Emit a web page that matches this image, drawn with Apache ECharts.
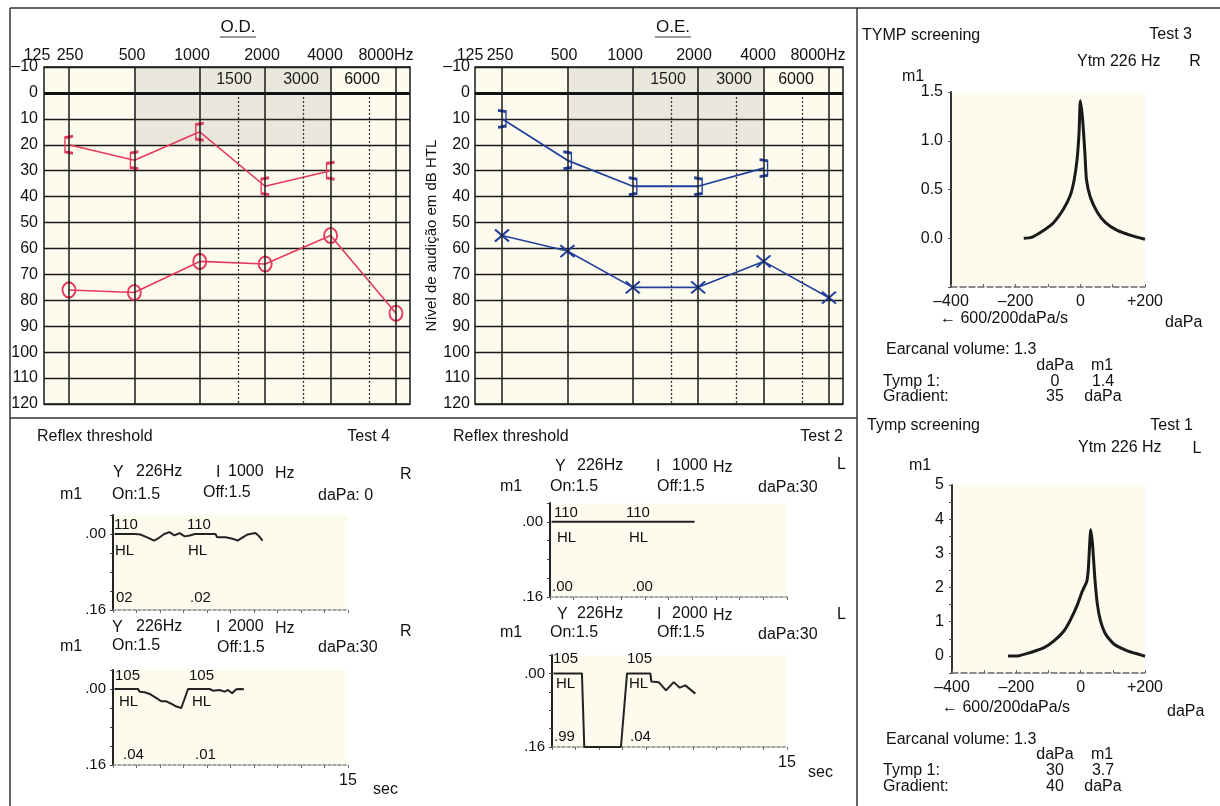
<!DOCTYPE html>
<html><head><meta charset="utf-8">
<script src="https://cdn.jsdelivr.net/npm/echarts@6/dist/echarts.min.js"></script>
<style>html,body{margin:0;padding:0;background:#fff}#c{width:1220px;height:806px}</style>
</head><body><div id="c"></div>
<script>
// ---------------- DATA ----------------
const audioFreqs = [250, 500, 1000, 2000, 4000, 8000];
const midFreqs = [1500, 3000, 6000];
const headerLabels = ['125', '250', '500', '1000', '2000', '4000', '8000Hz'];
const midLabels = ['1500', '3000', '6000'];
const maskedFreqs = [250, 500, 1000, 2000, 4000];
const odMaskedDb = [20, 26, 15, 36, 30];
const odAirDb = [76, 77, 65, 66, 55, 85];
const oeMaskedDb = [10, 26, 36, 36, 29];
const oeAirDb = [55, 61, 75, 75, 65, 79];

const tympRdaPa = [-175, -151, -114, -83, -52, -31, -19, -10, -4, 0, 7, 14, 19, 31, 52, 78, 114, 156, 200];
const tympRm1   = [0.00, 0.01, 0.08, 0.16, 0.30, 0.44, 0.60, 0.81, 1.08, 1.41, 1.22, 0.88, 0.60, 0.42, 0.27, 0.16, 0.08, 0.03, -0.01];
const tympLdaPa = [-226, -197, -156, -114, -83, -52, -31, -10, 5, 19, 24, 29, 31, 37, 44, 52, 62, 78, 104, 145, 187, 200];
const tympLm1   = [0.00, 0.00, 0.10, 0.24, 0.44, 0.73, 1.07, 1.50, 1.89, 2.18, 2.57, 3.45, 3.69, 3.25, 2.28, 1.50, 1.02, 0.63, 0.34, 0.15, 0.03, -0.01];

const reflexR1000t = [0.1, 1.42, 1.74, 2.18, 2.62, 2.94, 3.27, 3.6, 3.92, 4.25, 4.58, 4.9, 5.23, 6.54, 6.65, 7.19, 7.63, 7.96, 8.28, 8.6, 9.1, 9.33, 9.55];
const reflexR1000v = [0, 0, 0.001, 0.007, 0.014, 0.008, 0, -0.004, 0.003, -0.002, 0.005, 0.003, 0, 0, 0.007, 0.007, 0.01, 0.014, 0.007, 0.001, -0.002, 0.005, 0.014];
const reflexR2000t = [0.1, 1.6, 1.7, 2.02, 2.34, 2.77, 3.09, 3.4, 3.72, 4.04, 4.36, 4.47, 4.79, 6.17, 6.38, 6.8, 7.13, 7.34, 7.6, 7.87, 8.09, 8.36];
const reflexR2000v = [0, 0, 0.0056, 0.007, 0.0104, 0.019, 0.026, 0.026, 0.031, 0.037, 0.04, 0.038, 0, 0, 0.0035, 0.002, 0.0056, 0.002, 0.009, 0.0007, 0, 0.0007];
const reflexL1000t = [0.1, 9.15];
const reflexL1000v = [0, 0];
const reflexL2000t = [0.1, 1.91, 2.06, 4.4, 4.79, 6.28, 6.34, 6.81, 7.28, 7.77, 8.15, 8.51, 9.15];
const reflexL2000v = [0, 0, 0.16, 0.16, 0, 0, 0.0178, 0.019, 0.037, 0.019, 0.031, 0.026, 0.044];

// ---------------- STYLE ----------------
const FONT = '"Liberation Sans", Arial, Helvetica, sans-serif';
const RED = '#e63a5c', BLUE = '#213f9c', CREAM = '#fdfbee', INK = '#1a1a1a';
const zip = (a, b) => a.map((v, i) => [v, b[i]]);

const chart = echarts.init(document.getElementById('c'));

function audioGrid(left, width) {
  return { left: left, top: 67, width: width, height: 337, show: true, backgroundColor: CREAM,
           borderColor: INK, borderWidth: 1.5 };
}
function audioX(gi, minF) {
  return { gridIndex: gi, type: 'log', logBase: 2, min: minF, max: 9283,
           axisLine: {show: false}, axisTick: {show: false}, axisLabel: {show: false}, splitLine: {show: false} };
}
function audioY(gi, margin, name) {
  return { gridIndex: gi, type: 'value', inverse: true, min: -10, max: 120, interval: 10,
           axisLine: {show: false}, axisTick: {show: false},
           axisLabel: {color: '#111', fontSize: 16, fontFamily: FONT, margin: margin,
                       formatter: v => v < 0 ? '–' + Math.abs(v) : String(v)},
           splitLine: {show: true, lineStyle: {color: INK, width: 1.4}},
           name: name || '', nameLocation: 'middle', nameRotate: 90, nameGap: 36,
           nameTextStyle: {fontSize: 15, fontFamily: FONT, color: '#111'} };
}
function audioMarkLine() {
  const d = audioFreqs.map(f => ({xAxis: f}));
  midFreqs.forEach(f => d.push([{coord: [f, 0], lineStyle: {type: [2, 2], width: 1.3, color: '#333'}}, {coord: [f, 120]}]));
  d.push({yAxis: 0, lineStyle: {width: 3.2, color: '#111'}});
  return { silent: true, symbol: ['none', 'none'], label: {show: false}, animation: false,
           lineStyle: {color: INK, width: 1.5, type: 'solid'}, data: d };
}
const bracketL = 'path://M9,0 L1,1.5 L1,18.5 L9,20';
const bracketR = 'path://M0,0 L8,1.5 L8,18.5 L0,20';
const crossPath = 'path://M0,0 L12,10 M12,0 L0,10';

function tympGrid(left, top, width, height) {
  return { left, top, width, height, show: true, backgroundColor: CREAM, borderWidth: 0 };
}
function tympX(gi) {
  return { gridIndex: gi, type: 'value', min: -400, max: 200, interval: 100,
           axisLine: {onZero: false, lineStyle: {color: '#666', width: 1.5, type: [6, 3]}},
           axisTick: {inside: true, length: 3, lineStyle: {color: '#666'}},
           splitLine: {show: false},
           axisLabel: {color: '#111', fontSize: 16, fontFamily: FONT, margin: 7,
                       formatter: v => v % 200 !== 0 ? '' : (v > 0 ? '+' + v : (v < 0 ? '–' + Math.abs(v) : '0'))} };
}
function tympY(gi, min, max, interval, fmt) {
  return { gridIndex: gi, type: 'value', min, max, interval,
           axisLine: {show: true, onZero: false, lineStyle: {color: '#333', width: 2}},
           axisTick: {show: true, length: 3, lineStyle: {color: '#555'}},
           splitLine: {show: false},
           axisLabel: {color: '#111', fontSize: 16, fontFamily: FONT, margin: 8, formatter: fmt} };
}
function reflexGrid(left, top, width, height) {
  return { left, top, width, height, show: true, backgroundColor: CREAM, borderWidth: 0 };
}
function reflexX(gi, showEnd) {
  return { gridIndex: gi, type: 'value', min: 0, max: 15, interval: 1.5,
           axisLine: {onZero: false, lineStyle: {color: '#888', width: 1.5, type: [3, 2]}},
           axisTick: {show: true, length: 3, lineStyle: {color: '#666'}},
           splitLine: {show: false},
           axisLabel: {show: showEnd, color: '#111', fontSize: 16, fontFamily: FONT, margin: 8,
                       formatter: v => Math.abs(v - 15) < 1e-6 ? '15' : ''} };
}
function reflexY(gi) {
  return { gridIndex: gi, type: 'value', inverse: true, min: -0.04, max: 0.16, interval: 0.04,
           axisLine: {show: true, onZero: false, lineStyle: {color: '#222', width: 2}},
           axisTick: {show: true, length: 3, lineStyle: {color: '#444'}},
           splitLine: {show: false},
           axisLabel: {color: '#111', fontSize: 15, fontFamily: FONT, margin: 7,
                       formatter: v => Math.abs(v) < 1e-9 ? '.00' : (Math.abs(v - 0.16) < 1e-9 ? '.16' : '')} };
}
function trace(xi, t, v) {
  return { type: 'line', xAxisIndex: xi, yAxisIndex: xi, data: zip(t, v), symbol: 'none',
           lineStyle: {color: '#222', width: 2}, z: 3 };
}

// ---------------- TEXT ----------------
const texts = [];
function T(s, x, y, align, size, extra) {
  texts.push(Object.assign({ type: 'text', x: x, y: y, silent: true,
    style: { text: s, fontSize: size || 16, fontFamily: FONT, fill: '#111',
             align: align || 'left', verticalAlign: 'middle', textAlign: align || 'left', textVerticalAlign: 'middle' } }, extra || {}));
}
const lines = [];
function L(x1, y1, x2, y2, w) {
  lines.push({ type: 'line', silent: true, shape: {x1, y1, x2, y2}, style: {stroke: '#333', lineWidth: w || 1.5} });
}
// frame
L(10, 8, 1220, 8); L(10, 8, 10, 806); L(857, 8, 857, 806); L(10, 418, 857, 418);
// audiogram titles + headers
T('O.D.', 238, 27, 'center', 17); L(220, 37, 256, 37, 1.2);
T('O.E.', 673, 27, 'center', 17); L(655, 37, 691, 37, 1.2);
const odHeaderX = [37, 70, 132, 192, 262, 325, 386];
const oeHeaderX = [470, 500, 564, 625, 694, 758, 818];
headerLabels.forEach((s, i) => { T(s, odHeaderX[i], 56, 'center'); T(s, oeHeaderX[i], 56, 'center'); });
const odMidX = [234, 301, 362], oeMidX = [668, 734, 796];
midLabels.forEach((s, i) => { T(s, odMidX[i], 80, 'center'); T(s, oeMidX[i], 80, 'center'); });

// Tymp R
T('TYMP screening', 862, 36); T('Test 3', 1192, 35, 'right');
T('Ytm 226 Hz', 1077, 62); T('R', 1195, 62, 'center'); T('m1', 902, 77);
T('← 600/200daPa/s', 940, 319); T('daPa', 1165, 323);
T('Earcanal volume: 1.3', 886, 350);
T('daPa', 1055, 366, 'center'); T('m1', 1102, 366, 'center');
T('Tymp 1:', 883, 382); T('0', 1055, 382, 'center'); T('1.4', 1103, 382, 'center');
T('Gradient:', 883, 397); T('35', 1055, 397, 'center'); T('daPa', 1103, 397, 'center');
// Tymp L
T('Tymp screening', 867, 426); T('Test 1', 1193, 426, 'right');
T('Ytm 226 Hz', 1078, 448); T('L', 1197, 449, 'center'); T('m1', 909, 466);
T('← 600/200daPa/s', 942, 708); T('daPa', 1167, 712);
T('Earcanal volume: 1.3', 886, 740);
T('daPa', 1055, 755, 'center'); T('m1', 1102, 755, 'center');
T('Tymp 1:', 883, 771); T('30', 1055, 771, 'center'); T('3.7', 1103, 771, 'center');
T('Gradient:', 883, 787); T('40', 1055, 787, 'center'); T('daPa', 1103, 787, 'center');
// Reflex R ear
T('Reflex threshold', 37, 437); T('Test 4', 390, 437, 'right');
T('Y', 113, 473); T('226Hz', 136, 472); T('I', 216, 473); T('1000', 228, 472); T('Hz', 275, 474); T('R', 400, 475);
T('m1', 60, 495); T('On:1.5', 112, 495); T('Off:1.5', 203, 493); T('daPa: 0', 318, 496);
T('110', 114, 525, 'left', 15); T('HL', 115, 551, 'left', 15); T('110', 187, 525, 'left', 15); T('HL', 188, 551, 'left', 15);
T('02', 116, 598, 'left', 15); T('.02', 190, 598, 'left', 15);
T('Y', 112, 628); T('226Hz', 136, 627); T('I', 216, 628); T('2000', 228, 627); T('Hz', 275, 629); T('R', 400, 632);
T('m1', 60, 647); T('On:1.5', 112, 646); T('Off:1.5', 217, 648); T('daPa:30', 318, 648);
T('105', 115, 676, 'left', 15); T('HL', 119, 702, 'left', 15); T('105', 189, 676, 'left', 15); T('HL', 192, 702, 'left', 15);
T('.04', 123, 755, 'left', 15); T('.01', 195, 755, 'left', 15);
T('sec', 373, 790);
// Reflex L ear
T('Reflex threshold', 453, 437); T('Test 2', 843, 437, 'right');
T('Y', 555, 467); T('226Hz', 577, 466); T('I', 656, 467); T('1000', 672, 466); T('Hz', 713, 468); T('L', 837, 465);
T('m1', 500, 487); T('On:1.5', 550, 487); T('Off:1.5', 657, 487); T('daPa:30', 758, 488);
T('110', 554, 513, 'left', 15); T('HL', 557, 538, 'left', 15); T('110', 626, 513, 'left', 15); T('HL', 629, 538, 'left', 15);
T('.00', 552, 587, 'left', 15); T('.00', 632, 587, 'left', 15);
T('Y', 557, 615); T('226Hz', 577, 614); T('I', 657, 615); T('2000', 672, 614); T('Hz', 713, 616); T('L', 837, 615);
T('m1', 500, 633); T('On:1.5', 550, 633); T('Off:1.5', 657, 633); T('daPa:30', 758, 635);
T('105', 553, 659, 'left', 15); T('HL', 556, 684, 'left', 15); T('105', 627, 659, 'left', 15); T('HL', 629, 684, 'left', 15);
T('.99', 554, 737, 'left', 15); T('.04', 630, 737, 'left', 15);
T('sec', 808, 773);

// ---------------- OPTION ----------------
const option = {
  backgroundColor: '#fff',
  animation: false,
  grid: [
    audioGrid(44, 366),
    audioGrid(475, 368),
    tympGrid(951, 92, 194, 195),
    tympGrid(952, 485, 193, 188),
    reflexGrid(113, 515, 235, 95),
    reflexGrid(113, 670, 235, 95),
    reflexGrid(550, 503, 237, 94),
    reflexGrid(552, 655, 235, 92)
  ],
  xAxis: [
    audioX(0, 191.9), audioX(1, 187.8),
    tympX(2), tympX(3),
    reflexX(4, false), reflexX(5, true), reflexX(6, false), reflexX(7, true)
  ],
  yAxis: [
    audioY(0, 6), audioY(1, 5, 'Nível de audição em dB HTL'),
    tympY(2, -0.5, 1.5, 0.5, v => v < 0 ? '' : v.toFixed(1)),
    tympY(3, -0.5, 5, 0.5, v => (v >= 0 && Math.abs(v - Math.round(v)) < 1e-9) ? String(Math.round(v)) : ''),
    reflexY(4), reflexY(5), reflexY(6), reflexY(7)
  ],
  series: [
    { type: 'line', xAxisIndex: 0, yAxisIndex: 0, data: zip(maskedFreqs, odMaskedDb), z: 4,
      symbol: bracketL, symbolSize: [8, 17], itemStyle: {color: 'rgba(0,0,0,0)', borderColor: RED, borderWidth: 2},
      lineStyle: {color: RED, width: 1.6},
      markLine: audioMarkLine(),
      markArea: {silent: true, itemStyle: {color: 'rgba(110,110,110,0.13)'}, data: [[{coord: [500, -10]}, {coord: [4000, 20]}]]} },
    { type: 'line', xAxisIndex: 0, yAxisIndex: 0, data: zip(audioFreqs, odAirDb), z: 4,
      symbol: 'circle', symbolSize: [13, 15], itemStyle: {color: 'rgba(0,0,0,0)', borderColor: RED, borderWidth: 2},
      lineStyle: {color: RED, width: 1.6} },
    { type: 'line', xAxisIndex: 1, yAxisIndex: 1, data: zip(maskedFreqs, oeMaskedDb), z: 4,
      symbol: bracketR, symbolSize: [8, 17], itemStyle: {color: 'rgba(0,0,0,0)', borderColor: BLUE, borderWidth: 2},
      lineStyle: {color: BLUE, width: 1.8},
      markLine: audioMarkLine(),
      markArea: {silent: true, itemStyle: {color: 'rgba(110,110,110,0.13)'}, data: [[{coord: [500, -10]}, {coord: [4000, 20]}]]} },
    { type: 'line', xAxisIndex: 1, yAxisIndex: 1, data: zip(audioFreqs, oeAirDb), z: 4,
      symbol: crossPath, symbolSize: [14, 12], itemStyle: {color: 'rgba(0,0,0,0)', borderColor: BLUE, borderWidth: 2},
      lineStyle: {color: BLUE, width: 1.6} },
    { type: 'line', xAxisIndex: 2, yAxisIndex: 2, data: zip(tympRdaPa, tympRm1), symbol: 'none', smooth: 0.2,
      lineStyle: {color: '#1a1a1a', width: 3} },
    { type: 'line', xAxisIndex: 3, yAxisIndex: 3, data: zip(tympLdaPa, tympLm1), symbol: 'none', smooth: 0.2,
      lineStyle: {color: '#1a1a1a', width: 3} },
    trace(4, reflexR1000t, reflexR1000v),
    trace(5, reflexR2000t, reflexR2000v),
    trace(6, reflexL1000t, reflexL1000v),
    trace(7, reflexL2000t, reflexL2000v)
  ],
  graphic: lines.concat(texts)
};
chart.setOption(option);
</script></body></html>
